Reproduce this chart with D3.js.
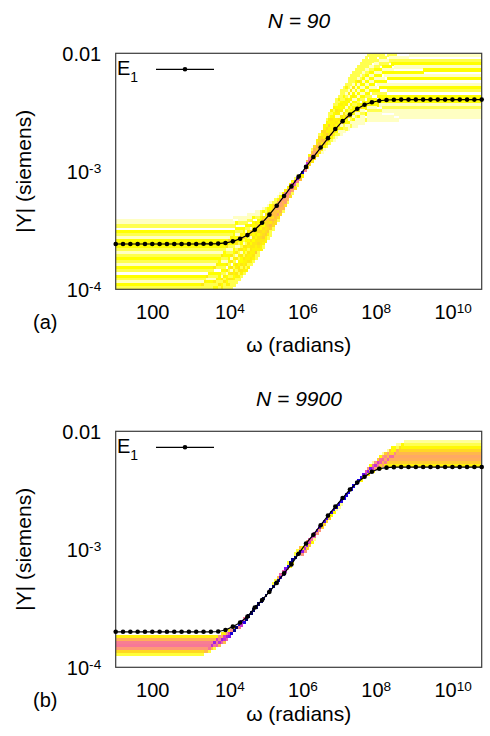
<!DOCTYPE html>
<html>
<head>
<meta charset="utf-8">
<script src="https://cdn.jsdelivr.net/npm/d3@7"></script>
<style>
  body { margin: 0; background: #fff; }
  text { font-family: "Liberation Sans", Arial, sans-serif; fill: #000; }
</style>
</head>
<body>
<svg id="fig" width="490" height="736"></svg>
<script>
// log10 of angular frequency at which E1 is evaluated
const omegaExp = [1.0,1.2,1.4,1.6,1.8,2.0,2.2,2.4,2.6,2.8,3.0,3.2,3.4,3.6,3.8,4.0,4.2,4.4,4.6,4.8,
  5.0,5.2,5.4,5.6,5.8,6.0,6.2,6.4,6.6,6.8,7.0,7.2,7.4,7.6,7.8,8.0,8.2,8.4,8.6,8.8,
  9.0,9.2,9.4,9.6,9.8,10.0,10.2,10.4,10.6,10.8,11.0];

// |Y| of element E1 (siemens), panel (a)
const admittanceA = [2.42e-4,2.42e-4,2.42e-4,2.42e-4,2.42e-4,2.42e-4,2.42e-4,2.42e-4,2.42e-4,2.42e-4,
  2.42e-4,2.42e-4,2.43e-4,2.43e-4,2.44e-4,2.47e-4,2.55e-4,2.68e-4,2.88e-4,3.20e-4,
  3.66e-4,4.29e-4,5.11e-4,6.17e-4,7.45e-4,9.02e-4,1.09e-3,1.32e-3,1.59e-3,1.91e-3,
  2.28e-3,2.66e-3,3.03e-3,3.39e-3,3.66e-3,3.85e-3,3.96e-3,4.02e-3,4.04e-3,4.05e-3,
  4.05e-3,4.05e-3,4.05e-3,4.05e-3,4.05e-3,4.05e-3,4.05e-3,4.05e-3,4.05e-3,4.05e-3,4.05e-3];

// |Y| of element E1 (siemens), panel (b)
const admittanceB = [2.00e-4,2.00e-4,2.00e-4,2.00e-4,2.00e-4,2.00e-4,2.00e-4,2.00e-4,2.00e-4,2.00e-4,
  2.00e-4,2.00e-4,2.00e-4,2.00e-4,2.01e-4,2.07e-4,2.21e-4,2.40e-4,2.69e-4,3.21e-4,
  3.72e-4,4.36e-4,5.19e-4,6.25e-4,7.45e-4,9.18e-4,1.12e-3,1.33e-3,1.60e-3,1.93e-3,
  2.30e-3,2.72e-3,3.21e-3,3.68e-3,4.12e-3,4.54e-3,4.82e-3,4.92e-3,4.97e-3,4.98e-3,
  4.98e-3,4.98e-3,4.98e-3,4.98e-3,4.98e-3,4.98e-3,4.98e-3,4.98e-3,4.98e-3,4.98e-3,4.98e-3];

// Sampled runs: low- and high-frequency plateaus (siemens) and how many runs sit on each
const runsA = 90;
const lowPlateauA = [3.89e-4,3.63e-4,3.43e-4,3.02e-4,2.85e-4,2.69e-4,2.57e-4,2.43e-4,2.29e-4,
  2.16e-4,2.04e-4,1.93e-4,1.82e-4,1.72e-4,1.62e-4,1.53e-4,1.45e-4,1.29e-4,
  1.22e-4,1.15e-4,1.08e-4,1.02e-4,9.55e-5,8.91e-5,8.32e-5,7.76e-5,7.08e-5,6.31e-5];
const lowCountA = [1,1,2,3,2,1,3,4,3,2,1,2,3,2,1,3,2,3,2,1,3,2,2,3,2,2,2,2];
const highPlateauA = [1.41e-2,1.26e-2,1.15e-2,1.05e-2,9.55e-3,8.91e-3,8.22e-3,7.67e-3,7.08e-3,6.61e-3,
  6.10e-3,5.62e-3,5.19e-3,4.79e-3,4.37e-3,4.07e-3,3.85e-3,3.63e-3,3.39e-3,3.20e-3,2.99e-3,2.82e-3];
const highCountA = [2,2,2,2,1,2,3,1,3,1,3,1,3,2,3,4,3,1,2,1,1,1];

const runsB = 9900;
const lowPlateauB = [1.83e-4,1.73e-4,1.63e-4,1.54e-4,1.45e-4,1.37e-4,1.30e-4];
const lowCountB = [495,1090,1880,1980,1390,690,250];
const highPlateauB = [8.18e-3,7.72e-3,7.29e-3,6.88e-3,6.49e-3,6.13e-3,5.79e-3,5.46e-3,5.16e-3];
const highCountB = [150,220,400,700,1000,1180,1100,800,450];

const xTicks = [1e2, 1e4, 1e6, 1e8, 1e10];
const xTickLabels = [["100", ""], ["10", "4"], ["10", "6"], ["10", "8"], ["10", "10"]];
const yTicks = [1e-4, 1e-3, 1e-2];
const yTickLabels = [["10", "-4"], ["10", "-3"], ["0.01", ""]];

// ---- layout ----
const plotL = 115.7, plotR = 481.7, plotH = 236;
const nCols = 150, colStep = 10 / nCols;   // bins in log10(ω)
const nRows = 80, rowStep = 2 / nRows;     // bins in log10|Y|

const panels = [
  { top: 53.3, title: "N = 90", tag: "(a)", values: admittanceA, runs: runsA,
    low: lowPlateauA, lowN: lowCountA, high: highPlateauA, highN: highCountA,
    mid: -3.0, blendLow: 0.5, blendHigh: 0.3, slope: 0.41, xlabelY: 352 },
  { top: 431.3, title: "N = 9900", tag: "(b)", values: admittanceB, runs: runsB,
    low: lowPlateauB, lowN: lowCountB, high: highPlateauB, highN: highCountB,
    mid: -3.0, blendLow: 1.0, blendHigh: 1.0, slope: 0.35, xlabelY: 721 }
];

// density colours: few runs -> pale yellow, most runs -> blue / black
const heat = d3.scaleLinear()
  .domain([0, 0.011, 0.022, 0.033, 0.06, 0.09, 0.13, 0.2, 0.3, 0.45, 0.6, 0.75, 0.9])
  .range(["#ffffff", "#ffffc4", "#ffff50", "#ffff00", "#ffe414", "#ffc040", "#ffa070",
          "#f67898", "#d838c8", "#7a10f0", "#1a00e8", "#000080", "#000000"])
  .clamp(true);

// Histogram of the sampled curves: each run follows E1 but ends on its own plateaus
function ensembleDensity(p) {
  const logs = p.values.map(v => Math.log10(v));
  const e = d3.scaleLinear().domain(omegaExp).range(logs).clamp(true);
  const lowEnd = logs[0], highEnd = logs[logs.length - 1];
  const cells = [];
  for (let c = 0; c < nCols; c++) {
    const w0 = 1 + c * colStep, w1 = w0 + colStep, w = w0 + colStep / 2;
    const lowSide = e(w) < p.mid;
    const plats = lowSide ? p.low : p.high;
    const counts = lowSide ? p.lowN : p.highN;
    const pe = lowSide ? lowEnd : highEnd;
    const blend = lowSide ? p.blendLow : p.blendHigh;
    const tally = new Map();
    plats.forEach((v, k) => {
      const q = Math.log10(v);
      const scaled = p.mid + (e(w) - p.mid) * (q - p.mid) / (pe - p.mid);
      const slid = e(w - (q - pe) / p.slope) + (q - pe);
      const yv = (1 - blend) * scaled + blend * slid;
      const r = Math.floor((yv + 4) / rowStep);
      if (r >= 0 && r < nRows) tally.set(r, (tally.get(r) || 0) + counts[k]);
    });
    tally.forEach((n, r) => cells.push({ w0, w1, y0: -4 + r * rowStep, y1: -4 + (r + 1) * rowStep, f: n / p.runs }));
  }
  return cells;
}

const svg = d3.select("#fig");

panels.forEach((p, i) => {
  const x = d3.scaleLog().domain([1e1, 1e11]).range([plotL, plotR]);
  const y = d3.scaleLog().domain([1e-4, 1e-2]).range([p.top + plotH, p.top]);
  const g = svg.append("g");

  const clipId = "plotclip" + i;
  svg.append("clipPath").attr("id", clipId).append("rect")
    .attr("x", plotL).attr("y", p.top).attr("width", plotR - plotL).attr("height", plotH);

  // density map
  g.append("g").attr("clip-path", `url(#${clipId})`).attr("shape-rendering", "crispEdges")
    .selectAll("rect").data(ensembleDensity(p)).join("rect")
    .attr("x", d => x(10 ** d.w0))
    .attr("width", d => x(10 ** d.w1) - x(10 ** d.w0) + 0.5)
    .attr("y", d => y(10 ** d.y1))
    .attr("height", d => y(10 ** d.y0) - y(10 ** d.y1) + 0.5)
    .attr("fill", d => heat(d.f));

  // frame
  g.append("rect").attr("x", plotL).attr("y", p.top)
    .attr("width", plotR - plotL).attr("height", plotH)
    .attr("fill", "none").attr("stroke", "#3a3a3a").attr("stroke-width", 1.2);

  // x axis
  const xa = g.append("g").attr("transform", `translate(0,${p.top + plotH})`)
    .call(d3.axisBottom(x).tickValues(xTicks).tickSize(0).tickFormat(""));
  xa.select(".domain").remove();
  xa.selectAll(".tick text").remove();
  xa.selectAll(".tick").each(function (d, k) {
    const [base, sup] = xTickLabels[k];
    const t = d3.select(this).append("text").attr("y", 29.5)
      .attr("text-anchor", "start").attr("font-size", 20);
    const bt = t.append("tspan").text(base);
    if (sup) t.append("tspan").attr("dy", "-0.45em").attr("font-size", "0.68em").text(sup);
    t.attr("x", -bt.node().getComputedTextLength() / 2);
  });

  // y axis
  const ya = g.append("g").attr("transform", `translate(${plotL},0)`)
    .call(d3.axisLeft(y).tickValues(yTicks).tickSize(0).tickFormat(""));
  ya.select(".domain").remove();
  ya.selectAll(".tick text").remove();
  ya.selectAll(".tick").each(function (d, k) {
    const [base, sup] = yTickLabels[k];
    const t = d3.select(this).append("text").attr("x", -14.5).attr("y", 7.5)
      .attr("text-anchor", "end").attr("font-size", 20);
    t.append("tspan").text(base);
    if (sup) t.append("tspan").attr("dy", "-0.45em").attr("font-size", "0.68em").text(sup);
  });

  // E1 curve
  const pts = omegaExp.map((w, k) => [10 ** w, p.values[k]]);
  g.append("path").datum(pts)
    .attr("d", d3.line().x(d => x(d[0])).y(d => y(d[1])))
    .attr("fill", "none").attr("stroke", "#000").attr("stroke-width", 1.2);
  g.append("g").selectAll("circle").data(pts).join("circle")
    .attr("cx", d => x(d[0])).attr("cy", d => y(d[1])).attr("r", 2.3).attr("fill", "#000");

  // legend
  const lg = g.append("g").attr("transform", `translate(0,${p.top})`);
  const lt = lg.append("text").attr("x", 117).attr("y", 22).attr("font-size", 20);
  lt.append("tspan").text("E");
  lt.append("tspan").attr("dy", 7).attr("font-size", 14).text("1");
  lg.append("line").attr("x1", 156).attr("x2", 214).attr("y1", 16).attr("y2", 16)
    .attr("stroke", "#000").attr("stroke-width", 1.2);
  lg.append("circle").attr("cx", 185).attr("cy", 16).attr("r", 2.3).attr("fill", "#000");

  // titles and labels
  g.append("text").attr("x", 299).attr("y", p.top - 25).attr("text-anchor", "middle")
    .attr("font-size", 21).attr("font-style", "italic").text(p.title);
  g.append("text").attr("x", 33).attr("y", p.top + plotH + 40).attr("font-size", 20).text(p.tag);
  g.append("text").attr("x", (plotL + plotR) / 2).attr("y", p.xlabelY).attr("text-anchor", "middle")
    .attr("font-size", 21).text("ω (radians)");
  g.append("text").attr("transform", `translate(31,${p.top + plotH / 2}) rotate(-90)`)
    .attr("text-anchor", "middle").attr("font-size", 21).text("|Y| (siemens)");
});
</script>
</body>
</html>
